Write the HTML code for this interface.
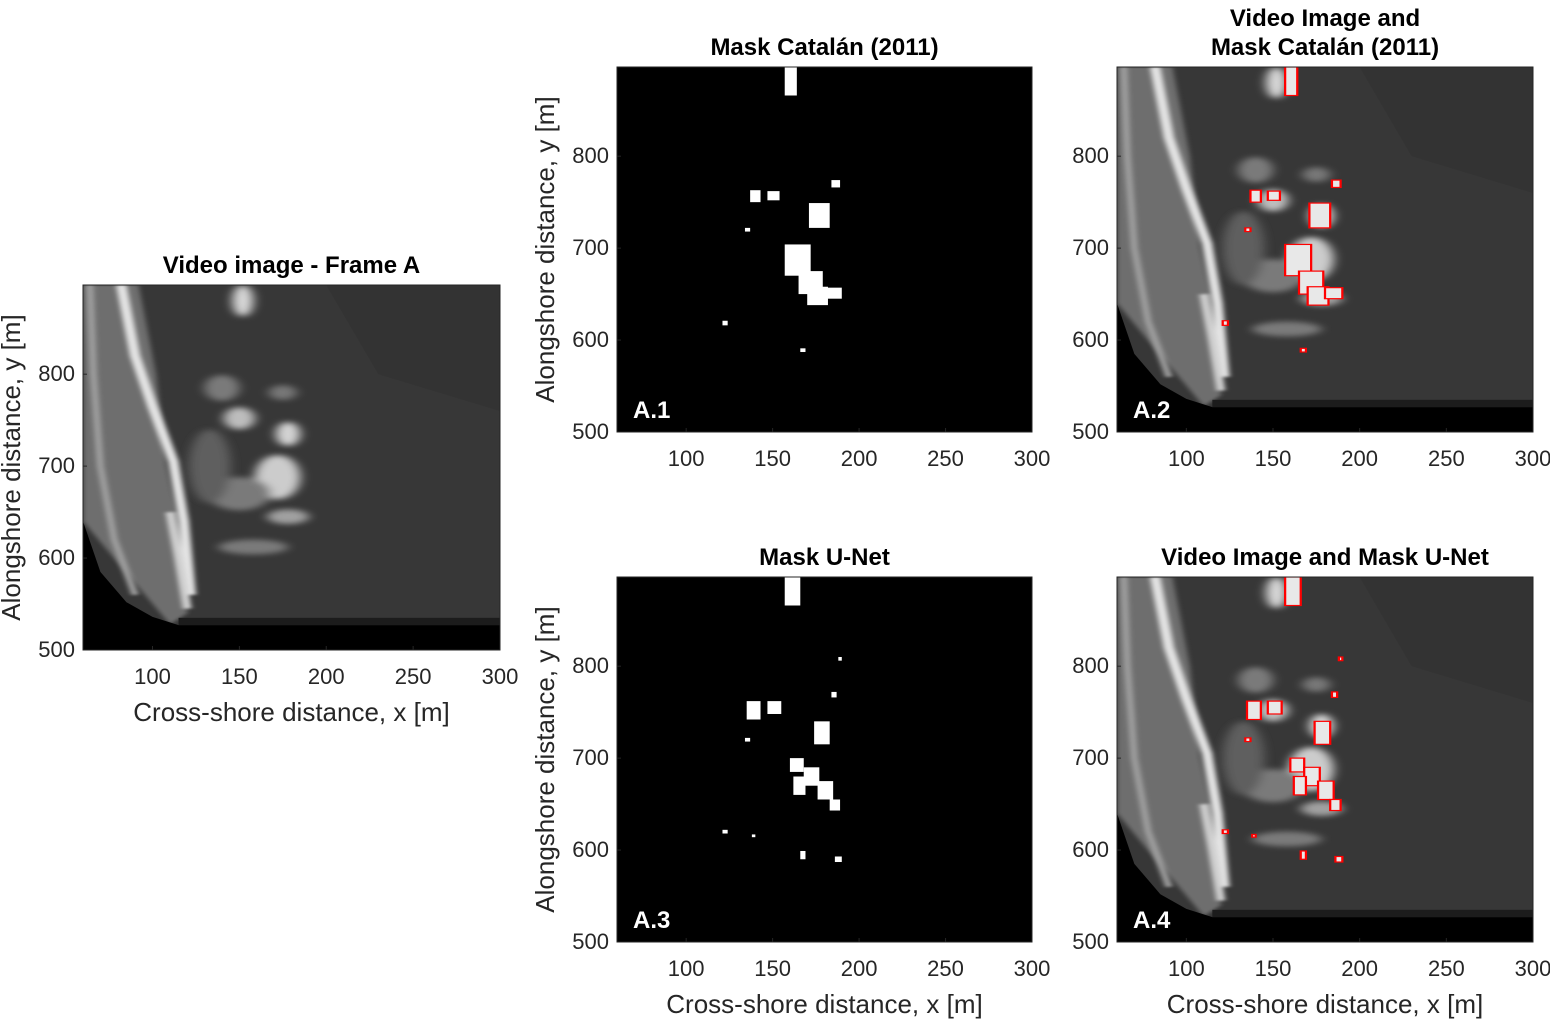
<!DOCTYPE html>
<html><head><meta charset="utf-8"><style>
body{margin:0;background:#fff;width:1550px;height:1023px;overflow:hidden}
svg text{font-family:"Liberation Sans",sans-serif;fill:#262626}
</style></head><body>
<svg id="fig" width="1550" height="1023" xmlns="http://www.w3.org/2000/svg">
<defs>
<filter id="bl" x="-20%" y="-20%" width="140%" height="140%"><feGaussianBlur stdDeviation="1.5"/></filter>
<filter id="bl2" x="-20%" y="-20%" width="140%" height="140%"><feGaussianBlur stdDeviation="3"/></filter>
</defs>
</svg>
<script>
const xTicks=[100,150,200,250,300];
const yTicks=[500,600,700,800];
const xLim=[60,300], yLim=[500,897];
// mask blobs [x,y,w,h] in data units
const maskCatalan=[[157,866,7,31],[137,750,6,13],[147,752,7,10],[134,718,3,4],[171,722,12,27],[184,766,5,8],[157,670,15,34],[165,650,14,25],[170,638,12,20],[180,645,10,12],[121,616,3,5],[166,587,3,4]];
const maskUnet=[[157,866,9,31],[188,806,2,4],[135,742,8,20],[147,748,8,14],[184,766,3,6],[174,715,9,25],[134,718,3,4],[160,685,8,15],[168,670,9,20],[176,655,9,20],[183,643,6,12],[162,660,7,20],[121,618,3,4],[138,614,2,3],[166,590,3,9],[186,587,4,6]];
const panels=[
 {id:'frame-a',x:83,y:285,w:417,h:365,title:['Video image - Frame A'],img:true,mask:null,xl:true,yl:true},
 {id:'a1',x:617,y:67,w:415,h:365,title:['Mask Catalán (2011)'],img:false,mask:maskCatalan,lab:'A.1',yl:true},
 {id:'a2',x:1117,y:67,w:416,h:365,title:['Video Image and','Mask Catalán (2011)'],img:true,mask:maskCatalan,lab:'A.2'},
 {id:'a3',x:617,y:577,w:415,h:365,title:['Mask U-Net'],img:false,mask:maskUnet,lab:'A.3',xl:true,yl:true},
 {id:'a4',x:1117,y:577,w:416,h:365,title:['Video Image and Mask U-Net'],img:true,mask:maskUnet,lab:'A.4',xl:true}
];
const NS='http://www.w3.org/2000/svg';
const svg=document.getElementById('fig');
function mk(t,a,p){const e=document.createElementNS(NS,t);for(const k in a)e.setAttribute(k,a[k]);(p||svg).appendChild(e);return e;}
function videoImage(g){
 mk('rect',{x:60,y:500,width:240,height:397,fill:'#373737'},g);
 mk('polygon',{points:'200,897 300,897 300,760 230,800',fill:'#333333'},g);
 mk('polygon',{points:'60,897 92,897 102,800 108,700 117,620 120,540 110,528 60,640',fill:'#6e6e6e',filter:'url(#bl)'},g);
 const s=mk('g',{filter:'url(#bl)',fill:'none','stroke-linejoin':'round'},g);
 mk('polyline',{points:'64,897 66,800 70,700 78,620 90,560',stroke:'#a0a0a0','stroke-width':4},s);
 mk('polyline',{points:'82,897 90,820 100,765 112,705 118,640 122,560',stroke:'#e4e4e4','stroke-width':6},s);
 mk('polyline',{points:'110,650 115,600 120,545',stroke:'#d0d0d0','stroke-width':5},s);
 const f=mk('g',{filter:'url(#bl2)'},g);
 [[152,880,6,17,'#d8d8d8'],[140,785,10,14,'#7a7a7a'],[150,752,9,12,'#bdbdbd'],[178,735,7,13,'#d4d4d4'],[172,688,13,24,'#cccccc'],[150,670,18,18,'#7a7a7a'],[178,645,12,8,'#a0a0a0'],[158,612,20,8,'#7a7a7a'],[133,700,12,40,'#5e5e5e'],[175,780,8,8,'#777']].forEach(e=>mk('ellipse',{cx:e[0],cy:e[1],rx:e[2],ry:e[3],fill:e[4]},f));
 mk('polygon',{points:'60,640 70,585 85,552 100,536 115,527 300,527 300,500 60,500',fill:'#000'},g);
 mk('rect',{x:115,y:527,width:185,height:8,fill:'#1c1c1c'},g);
}
panels.forEach((p,i)=>{
 const sx=p.w/(xLim[1]-xLim[0]), sy=p.h/(yLim[1]-yLim[0]);
 const X=v=>p.x+(v-xLim[0])*sx, Y=v=>p.y+p.h-(v-yLim[0])*sy;
 const pg=mk('g',{});
 
 
 const cp=mk('clipPath',{id:'c'+i},svg);mk('rect',{x:p.x,y:p.y,width:p.w,height:p.h},cp);
 const inner=mk('g',{'clip-path':'url(#c'+i+')'},pg);
 mk('rect',{x:p.x,y:p.y,width:p.w,height:p.h,fill:'#000'},inner);
 const dg=mk('g',{transform:`translate(${X(0)},${Y(0)}) scale(${sx},${-sy})`},inner);
 if(p.img) videoImage(dg);
 if(p.mask){p.mask.forEach(b=>{
   const r=mk('rect',{x:b[0],y:b[1],width:b[2],height:b[3],fill:p.img?'#e8e8e8':'#fff',stroke:p.img?'#ff0000':'none','stroke-width':p.img?1.3:0},dg);
   
   
 });}
 mk('rect',{x:p.x,y:p.y,width:p.w,height:p.h,fill:'none',stroke:'#262626','stroke-width':1},pg);
 xTicks.forEach(t=>{const x=X(t);mk('line',{x1:x,x2:x,y1:p.y+p.h,y2:p.y+p.h-4,stroke:'#262626'},pg);
  const tx=mk('text',{x:x,y:p.y+p.h+34,'text-anchor':'middle','font-size':22},pg);tx.textContent=t;
  });
 yTicks.forEach(t=>{const y=Y(t);mk('line',{x1:p.x,x2:p.x+4,y1:y,y2:y,stroke:'#262626'},pg);
  const tx=mk('text',{x:p.x-8,y:y+7,'text-anchor':'end','font-size':22},pg);tx.textContent=t;
  });
 p.title.forEach((l,k)=>{const t=mk('text',{x:p.x+p.w/2,y:p.y-12-(p.title.length-1-k)*29,'text-anchor':'middle','font-size':24,'font-weight':'bold',style:'fill:#000'},pg);t.textContent=l;
  });
 if(p.lab){const t=mk('text',{x:p.x+16,y:p.y+p.h-14,'font-size':24,'font-weight':'bold',style:'fill:#fff'},pg);t.textContent=p.lab;
  }
 if(p.xl){const t=mk('text',{x:p.x+p.w/2,y:p.y+p.h+71,'text-anchor':'middle','font-size':26},pg);t.textContent='Cross-shore distance, x [m]';
  }
 if(p.yl){const cx=p.x-63,cy=p.y+p.h/2;const t=mk('text',{x:cx,y:cy,'text-anchor':'middle','font-size':26,transform:`rotate(-90 ${cx} ${cy})`},pg);t.textContent='Alongshore distance, y [m]';
  }
});
</script>
</body></html>
